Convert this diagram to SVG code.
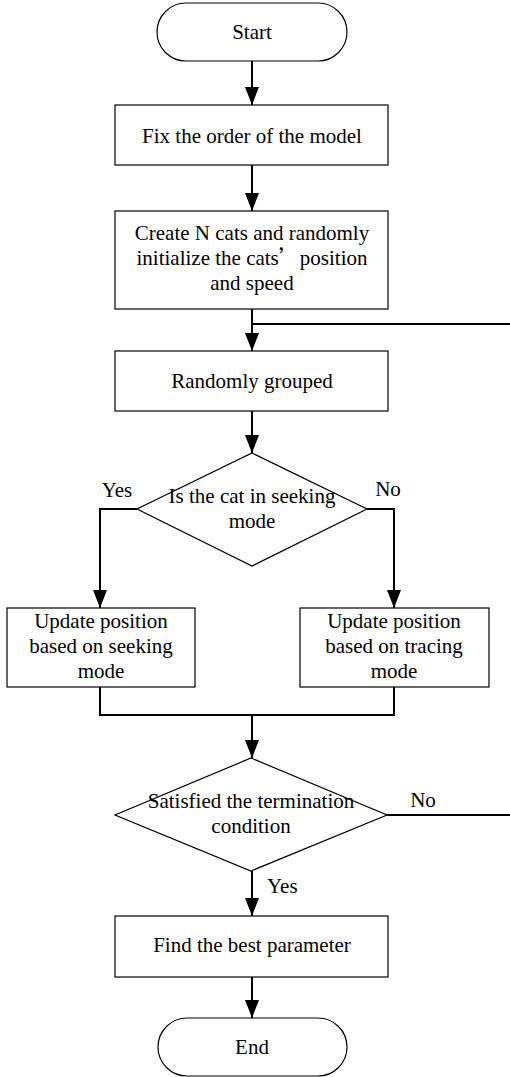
<svg xmlns="http://www.w3.org/2000/svg" width="510" height="1077" viewBox="0 0 510 1077">
<style>
.shape{fill:#fff;stroke:#000;stroke-width:1.2}
.conn{fill:none;stroke:#000;stroke-width:2}
text{font-family:"Liberation Serif","Times New Roman",serif;font-size:21px;fill:#000}
.c{text-anchor:middle}
.cjk{font-family:"Noto Sans CJK SC","Liberation Serif",serif}
</style>
<defs>
<marker id="ah" markerUnits="userSpaceOnUse" markerWidth="18" markerHeight="14" refX="18" refY="7" orient="auto" viewBox="0 0 18 14">
<path d="M0,0 L18,7 L0,14 z" fill="#000"/>
</marker>
</defs>
<rect width="510" height="1077" fill="#fff"/>
<g id="connectors">
<path class="conn" d="M252,61 V105" marker-end="url(#ah)"/>
<path class="conn" d="M252,165 V211" marker-end="url(#ah)"/>
<path class="conn" d="M252,309 V351" marker-end="url(#ah)"/>
<path class="conn" d="M252,324 H510"/>
<path class="conn" d="M252,411 V453" marker-end="url(#ah)"/>
<path class="conn" d="M137,509 H100 V608" marker-end="url(#ah)"/>
<path class="conn" d="M367,509 H394 V608" marker-end="url(#ah)"/>
<path class="conn" d="M100,687 V715 H394 V687"/>
<path class="conn" d="M252,715 V758" marker-end="url(#ah)"/>
<path class="conn" d="M387,815 H510"/>
<path class="conn" d="M252,871 V916" marker-end="url(#ah)"/>
<path class="conn" d="M252,977 V1018" marker-end="url(#ah)"/>
<text x="117" y="497" class="c">Yes</text>
<text x="388" y="496" class="c">No</text>
<text x="423" y="807" class="c">No</text>
<text x="267" y="893">Yes</text>
</g>
<g id="start">
<rect class="shape" x="157" y="3" width="190" height="58" rx="29" ry="29"/>
<text x="252" y="39" class="c">Start</text>
</g>
<g id="fix-order">
<rect class="shape" x="115" y="105" width="273" height="60"/>
<text x="252" y="143" class="c">Fix the order of the model</text>
</g>
<g id="create-cats">
<rect class="shape" x="115" y="211" width="273" height="98"/>
<text x="252" y="240" class="c">Create N cats and randomly</text>
<text x="252" y="265" class="c">initialize the cats<tspan class="cjk">’</tspan>position</text>
<text x="252" y="290" class="c">and speed</text>
</g>
<g id="randomly-grouped">
<rect class="shape" x="115" y="351" width="273" height="60"/>
<text x="252" y="388" class="c">Randomly grouped</text>
</g>
<g id="seeking-decision">
<polygon class="shape" points="252,453 367,509 252,566 137,509"/>
<text x="252" y="503" class="c">Is the cat in seeking</text>
<text x="252" y="528" class="c">mode</text>
</g>
<g id="update-seeking">
<rect class="shape" x="7" y="608" width="188" height="79"/>
<text x="101" y="628" class="c">Update position</text>
<text x="101" y="653" class="c">based on seeking</text>
<text x="101" y="678" class="c">mode</text>
</g>
<g id="update-tracing">
<rect class="shape" x="300" y="608" width="189" height="79"/>
<text x="394" y="628" class="c">Update position</text>
<text x="394" y="653" class="c">based on tracing</text>
<text x="394" y="678" class="c">mode</text>
</g>
<g id="termination-decision">
<polygon class="shape" points="251,758 387,815 251,871 115,815"/>
<text x="251" y="808" class="c">Satisfied the termination</text>
<text x="251" y="833" class="c">condition</text>
</g>
<g id="best-parameter">
<rect class="shape" x="115" y="916" width="273" height="61"/>
<text x="252" y="952" class="c">Find the best parameter</text>
</g>
<g id="end">
<rect class="shape" x="158" y="1018" width="189" height="58" rx="29" ry="29"/>
<text x="252" y="1054" class="c">End</text>
</g>
</svg>
